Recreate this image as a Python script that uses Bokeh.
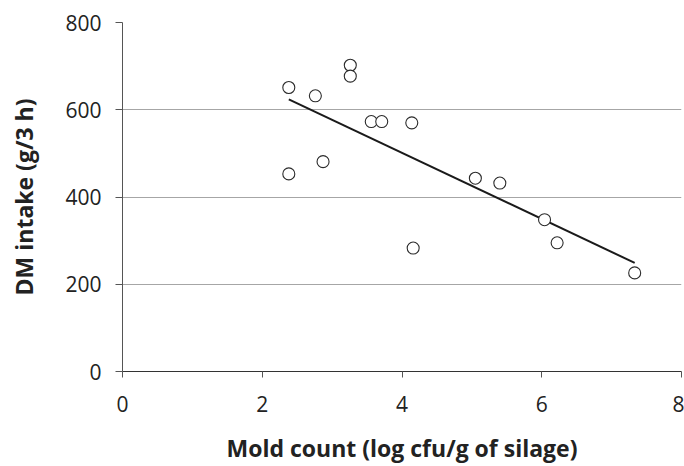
from bokeh.plotting import figure
from bokeh.models import Range1d, FixedTicker
from bokeh.embed import file_html
from bokeh.resources import INLINE

# Mold count (log cfu/g) vs dry-matter intake (g/3 h)
mold_count = [2.38, 2.38, 2.76, 2.87, 3.26, 3.26, 3.56, 3.71, 4.14, 4.16, 5.05, 5.40, 6.04, 6.22, 7.33]
dm_intake = [651, 453, 632, 481, 702, 677, 573, 573, 570, 283, 443, 432, 348, 295, 226]

# Fitted linear trend, endpoints
trend_x = [2.38, 7.33]
trend_y = [624, 249]

x_ticks = [0, 2, 4, 6, 8]
y_ticks = [0, 200, 400, 600, 800]

FONT = "Open Sans"

p = figure(width=684, height=466, output_backend="svg", toolbar_location=None,
           x_range=Range1d(0, 8), y_range=Range1d(0, 800),
           min_border_left=122, min_border_right=3, min_border_top=22, min_border_bottom=94)
p.outline_line_color = None
p.background_fill_color = "white"
p.border_fill_color = "white"

p.line(trend_x, trend_y, line_color="#1a1a1a", line_width=2)
p.scatter(mold_count, dm_intake, marker="circle", size=12, fill_color="white",
          line_color="#2b2b2b", line_width=1.1)

p.xgrid.grid_line_color = None
p.ygrid.grid_line_color = "#a6a6a6"
p.ygrid.grid_line_width = 1.2

for ax in (p.xaxis[0], p.yaxis[0]):
    ax.major_label_text_font = FONT
    ax.major_label_text_font_size = "21px"
    ax.major_label_text_color = "#222222"
    ax.axis_label_text_font = FONT
    ax.axis_label_text_font_size = "23px"
    ax.axis_label_text_font_style = "bold"
    ax.axis_label_text_color = "#222222"
    ax.minor_tick_line_color = None
    ax.major_tick_in = 0
    ax.axis_line_color = "#555555"
    ax.major_tick_line_color = "#555555"

p.xaxis.ticker = FixedTicker(ticks=x_ticks)
p.yaxis.ticker = FixedTicker(ticks=y_ticks)
p.xaxis.axis_label = "Mold count (log cfu/g of silage)"
p.yaxis.axis_label = "DM intake (g/3 h)"
p.xaxis.major_tick_out = 6
p.yaxis.major_tick_out = 7
p.xaxis.major_label_standoff = 18
p.yaxis.major_label_standoff = 14
p.xaxis.axis_label_standoff = 17
p.yaxis.axis_label_standoff = 22
p.xaxis.axis_line_color = "#333333"

open("out.html", "w").write(file_html(p, INLINE))
